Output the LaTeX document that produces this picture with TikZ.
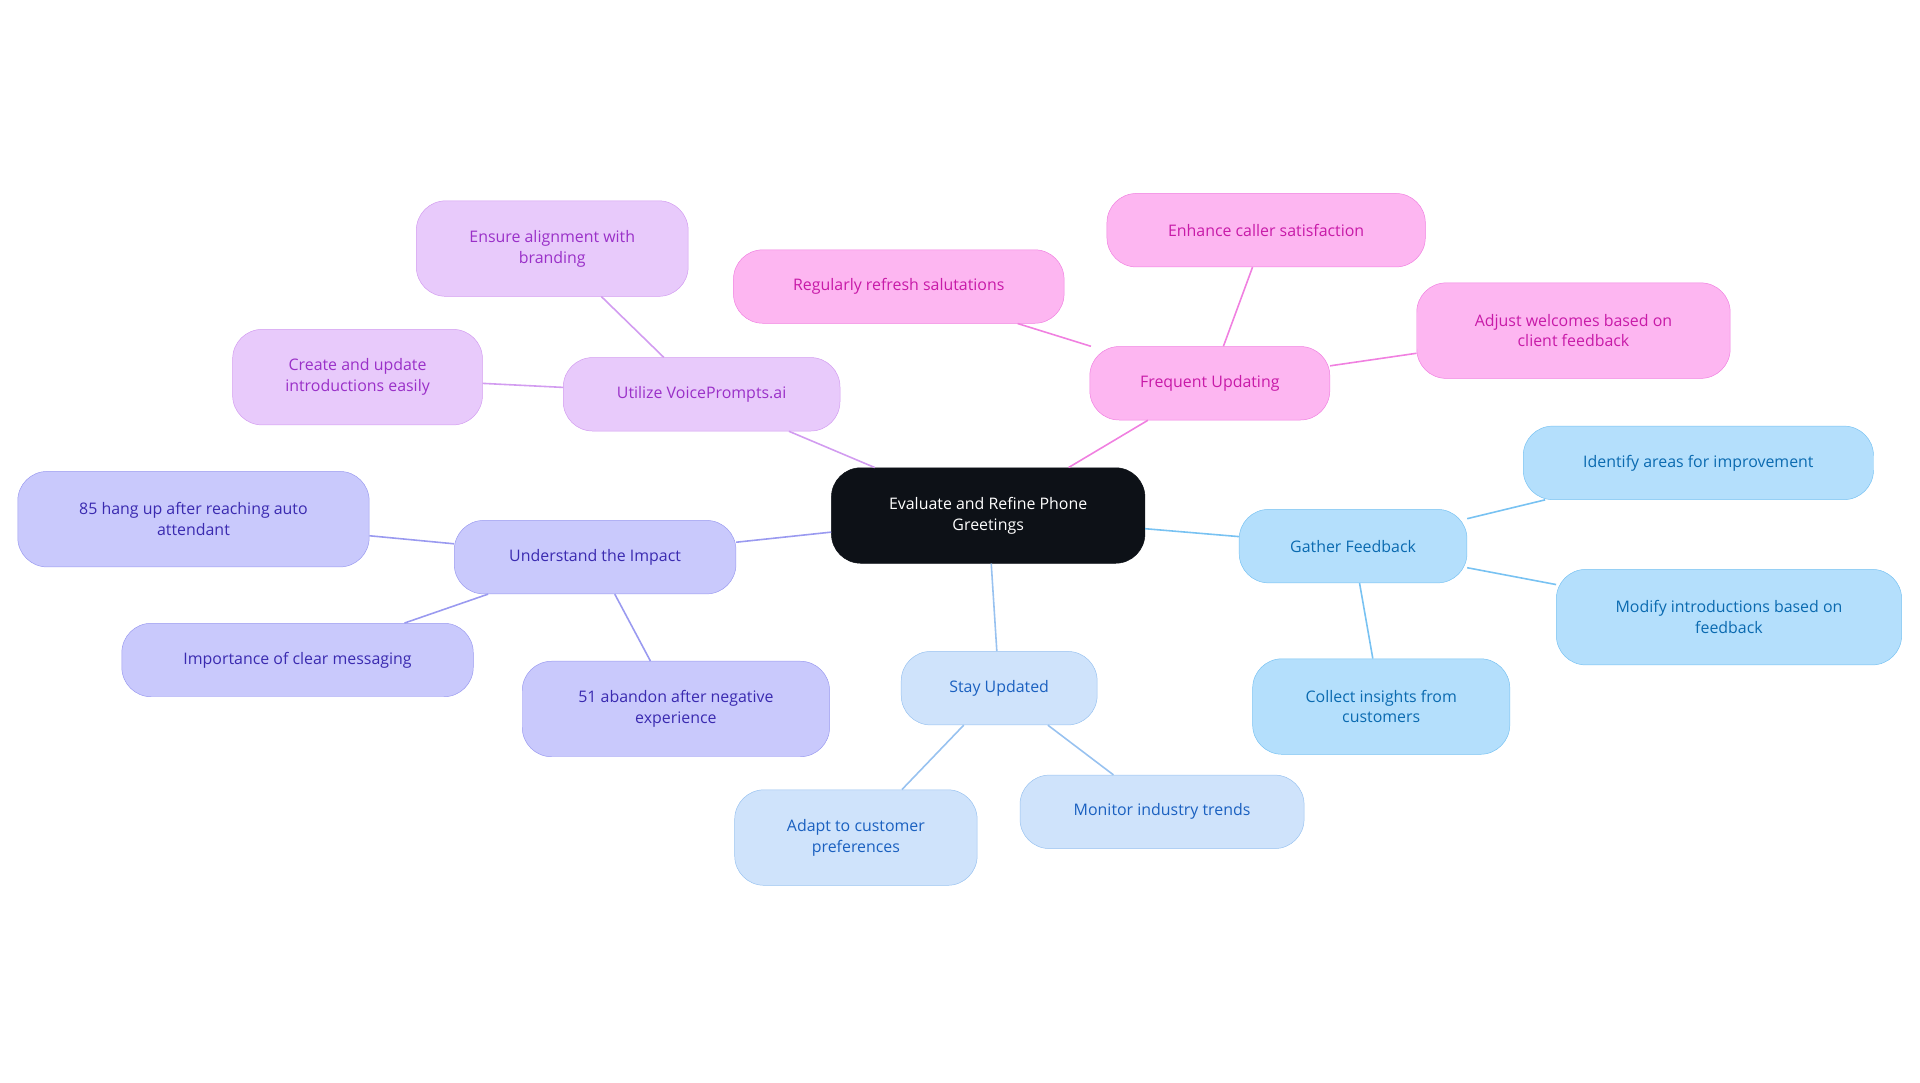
\documentclass[tikz,border=0pt]{standalone}
\usepackage{fontspec}
\setmainfont{Open Sans}
\usetikzlibrary{positioning}
\definecolor{centerfill}{HTML}{0D1117}
\definecolor{purfill}{HTML}{E8CAFB}\definecolor{purline}{HTML}{D29CF0}\definecolor{purtext}{HTML}{9A30C8}
\definecolor{pinkfill}{HTML}{FDB6F1}\definecolor{pinkline}{HTML}{F080E0}\definecolor{pinktext}{HTML}{C81AA8}
\definecolor{bluefill}{HTML}{B4DFFC}\definecolor{blueline}{HTML}{78C2F2}\definecolor{bluetext}{HTML}{0A6AB0}
\definecolor{skyfill}{HTML}{CFE3FB}\definecolor{skyline}{HTML}{98C2F0}\definecolor{skytext}{HTML}{1A60C0}
\definecolor{indfill}{HTML}{C9C9FC}\definecolor{indline}{HTML}{9A9AF0}\definecolor{indtext}{HTML}{3A2AB0}
\tikzset{
  topic/.style={rectangle, rounded corners=24pt, align=center, minimum height=60pt, inner sep=4pt, font=\fontsize{13}{17}\selectfont},
  root/.style={topic, fill=centerfill, draw=centerfill, text=white, minimum width=256pt, minimum height=78pt},
  pur/.style={topic, fill=purfill, draw=purline, text=purtext},
  pink/.style={topic, fill=pinkfill, draw=pinkline, text=pinktext},
  blue/.style={topic, fill=bluefill, draw=blueline, text=bluetext},
  sky/.style={topic, fill=skyfill, draw=skyline, text=skytext},
  ind/.style={topic, fill=indfill, draw=indline, text=indtext},
  link/.style={line width=1.3pt}
}
\begin{document}
\begin{tikzpicture}[x=1pt,y=-1pt]
\useasboundingbox (0,0) rectangle (1568,884);
\node (root) [root] at (807,421) {Evaluate and Refine Phone\\Greetings};
% purple branch
\node (voice) [pur, minimum width=226pt] at (573,322) {Utilize VoicePrompts.ai};
\node (brand) [pur, minimum width=222pt, minimum height=78pt] at (451,203) {Ensure alignment with\\branding};
\node (create) [pur, minimum width=204pt, minimum height=78pt] at (292,308) {Create and update\\introductions easily};
% pink branch
\node (freq) [pink, minimum width=196pt] at (988,313) {Frequent Updating};
\node (refresh) [pink, minimum width=270pt] at (734,234) {Regularly refresh salutations};
\node (enhance) [pink, minimum width=260pt] at (1034,188) {Enhance caller satisfaction};
\node (adjust) [pink, minimum width=256pt, minimum height=78pt] at (1285,270) {Adjust welcomes based on\\client feedback};
% blue branch
\node (gather) [blue, minimum width=186pt] at (1105,446) {Gather Feedback};
\node (identify) [blue, minimum width=286pt] at (1387,378) {Identify areas for improvement};
\node (modify) [blue, minimum width=282pt, minimum height=78pt] at (1412,504) {Modify introductions based on\\feedback};
\node (collect) [blue, minimum width=210pt, minimum height=78pt] at (1128,577) {Collect insights from\\customers};
% sky branch
\node (stay) [sky, minimum width=160pt] at (816,562) {Stay Updated};
\node (adapt) [sky, minimum width=198pt, minimum height=78pt] at (699,684) {Adapt to customer\\preferences};
\node (monitor) [sky, minimum width=232pt] at (949,663) {Monitor industry trends};
% indigo branch
\node (impact) [ind, minimum width=230pt] at (486,455) {Understand the Impact};
\node (hang) [ind, minimum width=287pt, minimum height=78pt] at (158,424) {85 hang up after reaching auto\\attendant};
\node (clear) [ind, minimum width=287pt] at (243,539) {Importance of clear messaging};
\node (abandon) [ind, minimum width=251pt, minimum height=78pt] at (552,579) {51 abandon after negative\\experience};
% links
\draw [link, purline] (root) -- (voice);
\draw [link, purline] (voice) -- (brand);
\draw [link, purline] (voice) -- (create);
\draw [link, pinkline] (root) -- (freq);
\draw [link, pinkline] (freq) -- (refresh);
\draw [link, pinkline] (freq) -- (enhance);
\draw [link, pinkline] (freq) -- (adjust);
\draw [link, blueline] (root) -- (gather);
\draw [link, blueline] (gather) -- (identify);
\draw [link, blueline] (gather) -- (modify);
\draw [link, blueline] (gather) -- (collect);
\draw [link, skyline] (root) -- (stay);
\draw [link, skyline] (stay) -- (adapt);
\draw [link, skyline] (stay) -- (monitor);
\draw [link, indline] (root) -- (impact);
\draw [link, indline] (impact) -- (hang);
\draw [link, indline] (impact) -- (clear);
\draw [link, indline] (impact) -- (abandon);
\end{tikzpicture}
\end{document}
